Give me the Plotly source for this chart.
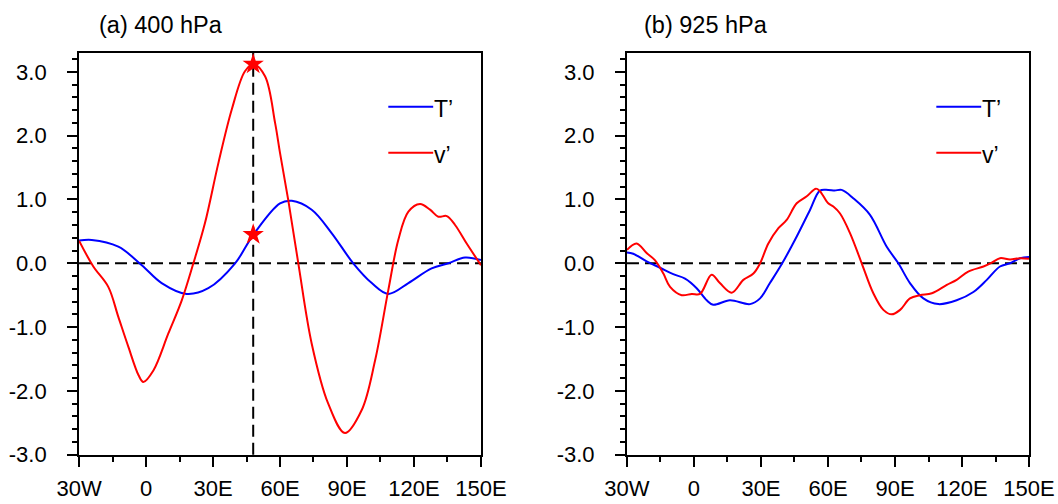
import plotly.graph_objects as go

# ---------------- data ----------------
lon_T400 = [-30, -24.3, -12.4, -1.9, 7.0, 18.2, 27.9, 39.9, 48.1, 60.0, 65.3, 74.2,
            83.2, 92.8, 101.1, 108.5, 117.5, 127.9, 135.4, 142.9, 150]
T400 = [0.355, 0.366, 0.26, -0.03, -0.31, -0.48, -0.39, 0.0, 0.45, 0.94, 0.98, 0.84,
        0.47, 0.0, -0.31, -0.48, -0.31, -0.08, 0.0, 0.09, 0.05]

lon_v400 = [-30, -23.6, -16.9, -12.4, -7.9, -3.4, -1.2, 3.3, 10.0, 16.0, 21.2, 26.4,
            32.4, 38.4, 44.3, 48.1, 53.3, 57.8, 60.0, 63.7, 68.2, 74.2, 81.6, 89.1,
            96.6, 102.6, 108.5, 113.0, 117.5, 122.7, 127.2, 130.9, 134.7, 138.4,
            143.6, 150]
v400 = [0.355, -0.05, -0.37, -0.84, -1.31, -1.75, -1.86, -1.68, -1.10, -0.58, 0.0, 0.63,
        1.57, 2.41, 3.01, 3.12, 2.93, 2.20, 1.73, 0.99, 0.0, -1.26, -2.20, -2.66,
        -2.30, -1.52, -0.42, 0.37, 0.81, 0.93, 0.84, 0.73, 0.74, 0.60,
        0.31, -0.03]

lon_T925 = [-30, -27.2, -21.2, -15.2, -9.3, -4.0, 1.2, 5.7, 8.6, 16.1, 25.1, 29.6,
            34.0, 39.5, 46.0, 52.0, 56.4, 60.1, 63.0, 66.1, 71.3, 78.8, 86.3, 91.5,
            96.7, 102.7, 109.4, 117.6, 125.1, 131.1, 137.0, 141.5, 146.0, 150]
T925 = [0.17, 0.15, 0.03, -0.07, -0.17, -0.24, -0.39, -0.58, -0.65, -0.58, -0.64, -0.55,
        -0.31, 0.0, 0.42, 0.84, 1.14, 1.15, 1.14, 1.15, 1.02, 0.76, 0.26, 0.0,
        -0.31, -0.55, -0.64, -0.58, -0.45, -0.26, -0.05, 0.0, 0.08, 0.10]

lon_v925 = [-30, -25.7, -21.2, -17.5, -13.7, -10.7, -5.5, -1.0, 2.7, 7.9, 11.6, 16.9,
            22.1, 26.6, 29.6, 33.3, 37.8, 41.5, 46.0, 50.5, 54.6, 56.4, 60.1, 62.4,
            65.4, 69.9, 75.1, 80.3, 84.8, 88.5, 92.3, 96.7, 101.2, 106.5, 113.2,
            117.6, 122.8, 129.6, 133.3, 137.0, 141.5, 146.0, 150]
v925 = [0.21, 0.31, 0.16, 0.05, -0.16, -0.37, -0.50, -0.48, -0.48, -0.18, -0.31, -0.46,
        -0.26, -0.16, 0.0, 0.31, 0.55, 0.68, 0.94, 1.05, 1.17, 1.13, 0.94, 0.89,
        0.78, 0.47, 0.0, -0.47, -0.73, -0.80, -0.73, -0.55, -0.50, -0.47, -0.34,
        -0.26, -0.13, -0.05, 0.01, 0.08, 0.06, 0.08, 0.07]

star_lon = 48
star_vals = [3.12, 0.45]

xtick_vals = [-30, 0, 30, 60, 90, 120, 150]
xtick_text = ["30W", "0", "30E", "60E", "90E", "120E", "150E"]
ytick_vals = [-3, -2, -1, 0, 1, 2, 3]
ytick_text = ["-3.0", "-2.0", "-1.0", "0.0", "1.0", "2.0", "3.0"]

titles = ["(a) 400 hPa", "(b) 925 hPa"]
legend_names = ["T\u2019", "v\u2019"]

BLUE = "#0000ff"
RED = "#ff0000"
FONT = "Liberation Sans, Arial, sans-serif"

fig = go.Figure()

panels = [
    ("x", "y", lon_T400, T400, lon_v400, v400),
    ("x2", "y2", lon_T925, T925, lon_v925, v925),
]
for xa, ya, lt, t, lv, v in panels:
    fig.add_trace(go.Scatter(x=lt, y=t, mode="lines", xaxis=xa, yaxis=ya,
                             line=dict(color=BLUE, width=2, shape="spline", smoothing=1.0),
                             showlegend=False, hoverinfo="skip"))
    fig.add_trace(go.Scatter(x=lv, y=v, mode="lines", xaxis=xa, yaxis=ya,
                             line=dict(color=RED, width=2, shape="spline", smoothing=1.0),
                             showlegend=False, hoverinfo="skip"))

# stars on panel (a)
fig.add_trace(go.Scatter(x=[star_lon] * len(star_vals), y=star_vals, mode="markers",
                         xaxis="x", yaxis="y",
                         marker=dict(symbol="star", size=16, color=RED, line=dict(width=0)),
                         showlegend=False, hoverinfo="skip"))

axis_common = dict(showline=True, linewidth=2, linecolor="black", mirror=True,
                   ticks="outside", ticklen=10, tickwidth=2, tickcolor="black",
                   showgrid=False, zeroline=False, automargin=False,
                   tickfont=dict(family=FONT, size=22, color="black"))

xdomains = [[0.0747, 0.4546], [0.5926, 0.9726]]
ydomain = [0.0978, 0.8954]

layout = dict(width=1058, height=504, margin=dict(l=0, r=0, t=0, b=0, pad=0),
              template="none",
              paper_bgcolor="white", plot_bgcolor="white", showlegend=False)

for i, (xn, yn) in enumerate([("xaxis", "yaxis"), ("xaxis2", "yaxis2")]):
    xa = dict(axis_common)
    xa.update(domain=xdomains[i], range=[-30, 150], tickmode="array",
              tickvals=xtick_vals, ticktext=xtick_text, ticklabelstandoff=3,
              minor=dict(ticks="outside", ticklen=5, tickwidth=2, tickcolor="black",
                         dtick=15, tick0=-30, showgrid=False),
              anchor="y" if i == 0 else "y2")
    ya = dict(axis_common)
    ya.update(domain=ydomain, range=[-3, 3.3], tickmode="array",
              tickvals=ytick_vals, ticktext=ytick_text, ticklabelstandoff=16,
              minor=dict(ticks="outside", ticklen=5, tickwidth=2, tickcolor="black",
                         dtick=0.2, tick0=-3, showgrid=False),
              anchor="x" if i == 0 else "x2")
    layout[xn] = xa
    layout[yn] = ya

fig.update_layout(**layout)

shapes = []
annotations = []
for i, (xr, yr) in enumerate([("x", "y"), ("x2", "y2")]):
    # zero line
    shapes.append(dict(type="line", xref=xr + " domain", yref=yr, x0=0, x1=1, y0=0, y1=0,
                       line=dict(color="black", width=2, dash="12px,6px"), layer="below"))
    # legend lines
    for j, (col, yv) in enumerate([(BLUE, 2.455), (RED, 1.733)]):
        shapes.append(dict(type="line", xref=xr, yref=yr, x0=108.5, x1=128.6, y0=yv, y1=yv,
                           line=dict(color=col, width=2)))
        annotations.append(dict(xref=xr, yref=yr, x=128.8, y=yv - 0.03, text=legend_names[j],
                                showarrow=False, xanchor="left", yanchor="middle",
                                xshift=-2,
                                font=dict(family=FONT, size=23, color="black")))
    annotations.append(dict(xref="paper", yref="paper", x=(96.5 if i == 0 else 642.0) / 1058,
                            y=1 - 24.5 / 504, text=titles[i], showarrow=False,
                            xanchor="left", yanchor="middle",
                            font=dict(family=FONT, size=23.5, color="black")))

# vertical dashed line at star longitude
shapes.append(dict(type="line", xref="x", yref="y domain", x0=star_lon, x1=star_lon, y0=0, y1=1,
                   line=dict(color="black", width=2, dash="12px,6px"), layer="below"))

fig.update_layout(shapes=shapes, annotations=annotations)
fig.write_html("out.html")
